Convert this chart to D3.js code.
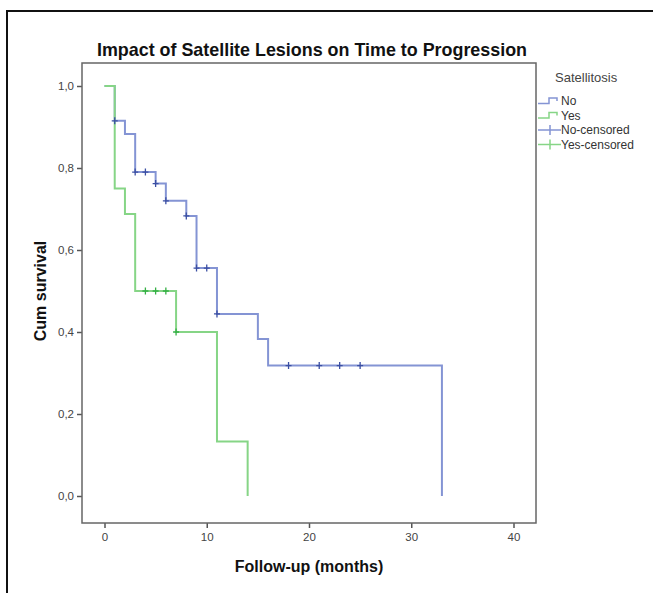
<!DOCTYPE html>
<html>
<head>
<meta charset="utf-8">
<script src="https://cdn.jsdelivr.net/npm/d3@7"></script>
<style>
  body { margin: 0; background: #fff; }
  svg { display: block; font-family: "Liberation Sans", Arial, sans-serif; }
</style>
</head>
<body>
<div id="chart"></div>
<script>
// Kaplan-Meier steps
const timesNo = [0, 1, 2, 3, 5, 6, 8, 9, 11, 15, 16, 33];
const survNo = [1, 0.915, 0.883, 0.790, 0.762, 0.720, 0.683, 0.556, 0.444, 0.383, 0.318, 0];
const censoredNo = [1, 3, 4, 5, 6, 8, 9, 10, 11, 18, 21, 23, 25];

const timesYes = [0, 1, 2, 3, 7, 11, 14];
const survYes = [1, 0.75, 0.688, 0.5, 0.4, 0.133, 0];
const censoredYes = [4, 5, 6, 7];

const xTicks = [0, 10, 20, 30, 40];
const yTicks = [0, 0.2, 0.4, 0.6, 0.8, 1.0];
const legendLabels = ["No", "Yes", "No-censored", "Yes-censored"];

let width = 653, height = 593;
let frame = {left: 82, right: 536, top: 63, bottom: 523};

let svg = d3.select("#chart").append("svg")
    .attr("width", width)
    .attr("height", height);

// outer border (top + left only visible)
svg.append("path")
    .attr("d", "M7,593 V11 H653")
    .attr("fill", "none")
    .attr("stroke", "#111")
    .attr("stroke-width", 2);

let x = d3.scaleLinear().domain([0, 40]).range([104.5, 513.5]);
let y = d3.scaleLinear().domain([0, 1]).range([496, 86]);

svg.append("text")
    .attr("x", 312)
    .attr("y", 56)
    .attr("text-anchor", "middle")
    .attr("font-size", 17.9)
    .attr("font-weight", "bold")
    .attr("fill", "#111")
    .text("Impact of Satellite Lesions on Time to Progression");

// axes
let yAxis = svg.append("g")
    .attr("transform", "translate(" + frame.left + ",0)")
    .call(d3.axisLeft(y).tickValues(yTicks).tickSize(5).tickPadding(3)
        .tickFormat(d => d3.format(".1f")(d).replace(".", ",")));
let xAxis = svg.append("g")
    .attr("transform", "translate(0," + frame.bottom + ")")
    .call(d3.axisBottom(x).tickValues(xTicks).tickSize(5).tickPadding(5));

[yAxis, xAxis].forEach(g => {
    g.select(".domain").remove();
    g.selectAll("line").attr("stroke", "#555").attr("stroke-width", 1.5);
    g.selectAll("text").attr("fill", "#444").attr("font-size", 11.5)
        .attr("font-family", "'Liberation Sans', Arial, sans-serif");
});

svg.append("rect")
    .attr("x", frame.left)
    .attr("y", frame.top)
    .attr("width", frame.right - frame.left)
    .attr("height", frame.bottom - frame.top)
    .attr("fill", "none")
    .attr("stroke", "#666")
    .attr("stroke-width", 1.5);

svg.append("text")
    .attr("transform", "translate(46," + (y(0.5)) + ") rotate(-90)")
    .attr("text-anchor", "middle")
    .attr("font-size", 16)
    .attr("font-weight", "bold")
    .attr("fill", "#111")
    .text("Cum survival");

svg.append("text")
    .attr("x", (frame.left + frame.right) / 2)
    .attr("y", 572)
    .attr("text-anchor", "middle")
    .attr("font-size", 16)
    .attr("font-weight", "bold")
    .attr("fill", "#111")
    .text("Follow-up (months)");

// survival curves
let groups = [
    {times: timesNo, surv: survNo, cens: censoredNo, line: "#8494d4", mark: "#3b4fa3"},
    {times: timesYes, surv: survYes, cens: censoredYes, line: "#86d586", mark: "#35b045"}
];

let stepLine = d3.line()
    .x(d => x(d.t))
    .y(d => y(d.s))
    .curve(d3.curveStepAfter);

groups.forEach(g => {
    let pts = g.times.map((t, i) => ({t: t, s: g.surv[i]}));
    svg.append("path")
        .datum(pts)
        .attr("d", stepLine)
        .attr("fill", "none")
        .attr("stroke", g.line)
        .attr("stroke-width", 2);
});

function survAt(g, t) {
    let s = g.surv[0];
    g.times.forEach((tt, i) => { if (tt <= t) s = g.surv[i]; });
    return s;
}

groups.forEach(g => {
    let marks = svg.append("g");
    g.cens.forEach(t => {
        let cx = x(t), cy = y(survAt(g, t));
        marks.append("path")
            .attr("d", "M" + cx + "," + (cy - 3.5) + "V" + (cy + 3.5) + "M" + (cx - 3) + "," + cy + "H" + (cx + 3))
            .attr("stroke", g.mark)
            .attr("stroke-width", 1.3)
            .attr("fill", "none");
    });
});

// legend
let legend = svg.append("g");
legend.append("text")
    .attr("x", 555)
    .attr("y", 82)
    .attr("font-size", 13)
    .attr("fill", "#444")
    .text("Satellitosis");

let legendY = [101, 115.5, 130, 144.5];
legendLabels.forEach((lab, i) => {
    let g = groups[i % 2];
    let ly = legendY[i];
    if (i < 2) {
        legend.append("path")
            .attr("d", "M538," + (ly + 2.5) + "H549V" + (ly - 3) + "H557V" + ly)
            .attr("fill", "none")
            .attr("stroke", g.line)
            .attr("stroke-width", 1.5);
    } else {
        legend.append("path")
            .attr("d", "M538," + ly + "H561M550," + (ly - 5) + "V" + (ly + 5))
            .attr("fill", "none")
            .attr("stroke", g.line)
            .attr("stroke-width", 1.5);
    }
    legend.append("text")
        .attr("x", 561)
        .attr("y", ly + 4)
        .attr("font-size", 12)
        .attr("fill", "#333")
        .text(lab);
});
</script>
</body>
</html>
